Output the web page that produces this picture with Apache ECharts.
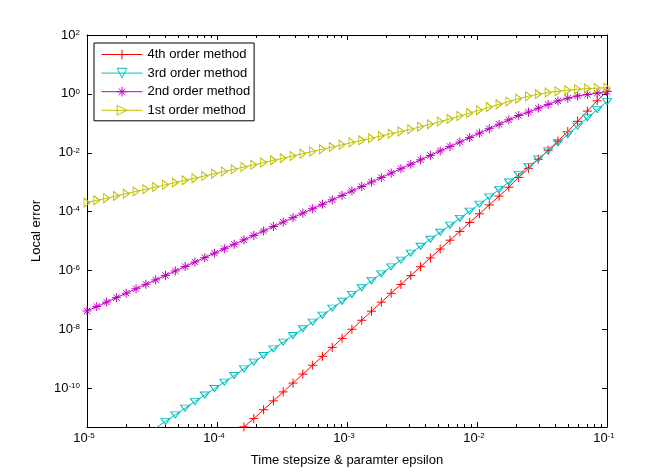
<!DOCTYPE html>
<html>
<head>
<meta charset="utf-8">
<title>Local error</title>
<script src="https://cdn.jsdelivr.net/npm/echarts@6/dist/echarts.min.js"></script>
<style>
html, body { margin: 0; padding: 0; background: #fff; }
#chart { width: 671px; height: 472px; }
</style>
</head>
<body>
<div id="chart"></div>
<script>
// time step sizes (log spaced from 1e-5 to 1e-1)
var stepSizes = [
    1.000e-5, 1.190e-5, 1.416e-5, 1.684e-5, 2.004e-5, 2.385e-5, 2.837e-5, 3.376e-5, 4.017e-5, 4.779e-5,
    5.686e-5, 6.765e-5, 8.049e-5, 9.575e-5, 1.139e-4, 1.355e-4, 1.612e-4, 1.919e-4, 2.283e-4, 2.716e-4,
    3.231e-4, 3.845e-4, 4.575e-4, 5.443e-4, 6.476e-4, 7.705e-4, 9.168e-4, 1.091e-3, 1.298e-3, 1.544e-3,
    1.837e-3, 2.186e-3, 2.601e-3, 3.095e-3, 3.681e-3, 4.380e-3, 5.212e-3, 6.202e-3, 7.379e-3, 8.779e-3,
    1.044e-2, 1.243e-2, 1.479e-2, 1.759e-2, 2.093e-2, 2.490e-2, 2.963e-2, 3.526e-2, 4.195e-2, 4.991e-2,
    5.938e-2, 7.066e-2, 8.406e-2, 1.000e-1
];

// local errors (null = below the visible range)
var err4th = [
    null, null, null, null, null, null, null, null, null, null,
    null, null, null, null, null, null, 4.97e-12, 9.46e-12, 1.89e-11, 3.78e-11,
    7.62e-11, 1.52e-10, 3.06e-10, 6.12e-10, 1.23e-9, 2.47e-9, 5.00e-9, 1.02e-8, 2.06e-8, 4.19e-8,
    8.49e-8, 1.70e-7, 3.39e-7, 6.78e-7, 1.36e-6, 2.70e-6, 5.41e-6, 1.08e-5, 2.14e-5, 4.29e-5,
    8.49e-5, 1.70e-4, 3.39e-4, 6.78e-4, 1.45e-3, 2.97e-3, 6.03e-3, 1.22e-2, 2.52e-2, 5.28e-2,
    0.117, 0.261, 0.581, 1.23
];
var err3rd = [
    null, null, null, null, null, null, null, 4.52e-12, 7.62e-12, 1.27e-11,
    2.14e-11, 3.58e-11, 5.98e-11, 9.93e-11, 1.64e-10, 2.75e-10, 4.63e-10, 7.80e-10, 1.31e-9, 2.21e-9,
    3.72e-9, 6.27e-9, 1.06e-8, 1.79e-8, 3.06e-8, 5.32e-8, 9.10e-8, 1.55e-7, 2.62e-7, 4.52e-7,
    7.80e-7, 1.34e-6, 2.28e-6, 3.90e-6, 6.73e-6, 1.16e-5, 2.01e-5, 3.48e-5, 5.98e-5, 1.04e-4,
    1.81e-4, 3.18e-4, 5.66e-4, 1.02e-3, 1.84e-3, 3.37e-3, 6.22e-3, 1.16e-2, 2.19e-2, 4.19e-2,
    8.04e-2, 0.155, 0.292, 0.545
];
var err2nd = [
    4.27e-8, 6.04e-8, 8.55e-8, 1.21e-7, 1.71e-7, 2.42e-7, 3.43e-7, 4.86e-7, 6.88e-7, 9.74e-7,
    1.38e-6, 1.95e-6, 2.76e-6, 3.91e-6, 5.53e-6, 7.83e-6, 1.11e-5, 1.57e-5, 2.22e-5, 3.15e-5,
    4.45e-5, 6.30e-5, 8.93e-5, 1.26e-4, 1.79e-4, 2.53e-4, 3.58e-4, 5.07e-4, 7.18e-4, 1.02e-3,
    1.44e-3, 2.04e-3, 2.88e-3, 4.08e-3, 5.78e-3, 8.18e-3, 1.16e-2, 1.64e-2, 2.32e-2, 3.29e-2,
    4.65e-2, 6.58e-2, 9.32e-2, 0.132, 0.184, 0.241, 0.329, 0.439, 0.575, 0.716,
    0.855, 0.955, 1.06, 1.19
];
var err1st = [
    2.04e-4, 2.43e-4, 2.89e-4, 3.44e-4, 4.09e-4, 4.87e-4, 5.79e-4, 6.89e-4, 8.20e-4, 9.75e-4,
    1.16e-3, 1.38e-3, 1.64e-3, 1.95e-3, 2.33e-3, 2.77e-3, 3.29e-3, 3.92e-3, 4.66e-3, 5.55e-3,
    6.60e-3, 7.85e-3, 9.34e-3, 1.11e-2, 1.32e-2, 1.57e-2, 1.87e-2, 2.23e-2, 2.65e-2, 3.15e-2,
    3.75e-2, 4.46e-2, 5.31e-2, 6.32e-2, 0.077, 0.094, 0.115, 0.142, 0.177, 0.223,
    0.281, 0.356, 0.442, 0.553, 0.689, 0.836, 0.984, 1.11, 1.23, 1.34,
    1.44, 1.52, 1.58, 1.62
];

var seriesNames = ['4th order method', '3rd order method', '2nd order method', '1st order method'];

// axis ticks
var xTicks = [1e-5, 1e-4, 1e-3, 1e-2, 1e-1];
var xMinorTicks = [
    2e-5, 3e-5, 4e-5, 5e-5, 6e-5, 7e-5, 8e-5, 9e-5,
    2e-4, 3e-4, 4e-4, 5e-4, 6e-4, 7e-4, 8e-4, 9e-4,
    2e-3, 3e-3, 4e-3, 5e-3, 6e-3, 7e-3, 8e-3, 9e-3,
    2e-2, 3e-2, 4e-2, 5e-2, 6e-2, 7e-2, 8e-2, 9e-2
];
var yTicks = [1e-10, 1e-8, 1e-6, 1e-4, 1e-2, 1, 1e2];
var xMin = 1e-5, xMax = 1e-1;
var yMin = 4.9e-12, yMax = 1e2;

var FONT = 'Liberation Sans, Arial, Helvetica, sans-serif';
var PLUS = 'path://M0,4L8,4M4,0L4,8';
var STAR = 'path://M0,4L8,4M4,0L4,8M1.2,1.2L6.8,6.8M1.2,6.8L6.8,1.2';

function pairs(ys) {
    var out = [];
    for (var i = 0; i < ys.length; i++) {
        if (ys[i] != null) out.push([stepSizes[i], ys[i]]);
    }
    return out;
}

function powLabel(v) {
    var e = Math.round(Math.log(v) / Math.LN10);
    return '{b|10}{s|' + e + '}';
}

var rich = {
    b: { fontFamily: FONT, fontSize: 13, lineHeight: 13, color: '#000', verticalAlign: 'bottom', padding: [4, 0, 0, 0] },
    s: { fontFamily: FONT, fontSize: 8, lineHeight: 8, color: '#000', verticalAlign: 'top' }
};

var blackLine = { show: true, onZero: false, lineStyle: { color: '#000', width: 1 } };
var noLine = { show: false };

function xAxis(pos, ticks, len, withLine, withLabel) {
    var ax = {
        type: 'log', logBase: 10, min: xMin, max: xMax, position: pos,
        axisLine: withLine ? blackLine : noLine,
        axisTick: { show: true, inside: true, length: len, lineStyle: { color: '#000', width: 1 }, customValues: ticks },
        axisLabel: { show: false },
        splitLine: { show: false }
    };
    if (withLabel) {
        ax.axisLabel = { show: true, customValues: ticks, formatter: powLabel, rich: rich, margin: 5, padding: [0, 6, 0, 0] };
        ax.name = 'Time stepsize & paramter epsilon';
        ax.nameLocation = 'middle';
        ax.nameGap = 27;
        ax.nameTextStyle = { fontFamily: FONT, fontSize: 13, color: '#000' };
    }
    return ax;
}

function yAxis(pos, withLabel) {
    var ax = {
        type: 'log', logBase: 10, min: yMin, max: yMax, position: pos,
        axisLine: blackLine,
        axisTick: { show: true, inside: true, length: 5, lineStyle: { color: '#000', width: 1 }, customValues: yTicks },
        axisLabel: { show: false },
        splitLine: { show: false }
    };
    if (withLabel) {
        ax.axisLabel = { show: true, customValues: yTicks, formatter: powLabel, rich: rich, margin: 7 };
        ax.name = 'Local error';
        ax.nameLocation = 'middle';
        ax.nameGap = 37;
        ax.nameTextStyle = { fontFamily: FONT, fontSize: 13, color: '#000' };
    }
    return ax;
}

var myChart = echarts.init(document.getElementById('chart'));

var option = {
    animation: false,
    backgroundColor: '#fff',
    grid: { left: 87, right: 64, top: 35, bottom: 43 },
    legend: {
        orient: 'vertical',
        left: 94,
        top: 43,
        data: seriesNames,
        itemWidth: 41,
        itemHeight: 12,
        itemGap: 5.6,
        padding: [5, 4, 4, 7],
        borderColor: '#000',
        borderWidth: 1,
        backgroundColor: '#fff',
        selectedMode: false,
        itemStyle: { borderWidth: 1 },
        lineStyle: { width: 1 },
        textStyle: { fontFamily: FONT, fontSize: 13, color: '#000' }
    },
    xAxis: [
        xAxis('bottom', xTicks, 5, true, true),
        xAxis('bottom', xMinorTicks, 3, false, false),
        xAxis('top', xTicks, 5, true, false),
        xAxis('top', xMinorTicks, 3, false, false)
    ],
    yAxis: [
        yAxis('left', true),
        yAxis('right', false)
    ],
    series: [
        {
            name: seriesNames[0], type: 'line', data: pairs(err4th),
            symbol: PLUS, symbolSize: 9,
            lineStyle: { color: '#ff0000', width: 1 },
            itemStyle: { color: '#ff0000', borderColor: '#ff0000', borderWidth: 1 }
        },
        {
            name: seriesNames[1], type: 'line', data: pairs(err3rd),
            symbol: 'triangle', symbolSize: [9, 6], symbolRotate: 180,
            lineStyle: { color: '#00bfbf', width: 1 },
            itemStyle: { color: 'rgba(0,0,0,0)', borderColor: '#00bfbf', borderWidth: 1 }
        },
        {
            name: seriesNames[2], type: 'line', data: pairs(err2nd),
            symbol: STAR, symbolSize: 9,
            lineStyle: { color: '#bf00bf', width: 1 },
            itemStyle: { color: '#bf00bf', borderColor: '#bf00bf', borderWidth: 1 }
        },
        {
            name: seriesNames[3], type: 'line', data: pairs(err1st),
            symbol: 'triangle', symbolSize: [9, 6], symbolRotate: -90,
            lineStyle: { color: '#bfbf00', width: 1 },
            itemStyle: { color: 'rgba(0,0,0,0)', borderColor: '#bfbf00', borderWidth: 1 }
        }
    ]
};

myChart.setOption(option);
</script>
</body>
</html>
